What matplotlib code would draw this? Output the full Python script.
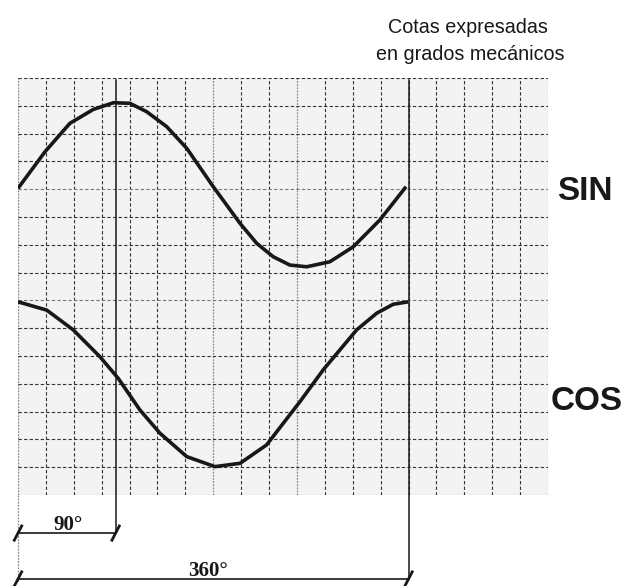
import numpy as np
import matplotlib
matplotlib.use("Agg")
import matplotlib.pyplot as plt

# curves, in grid cells (1 cell = 360/14 deg)
sin_x = [0.0, 0.97, 1.86, 2.70, 3.42, 4.01, 4.61, 5.33, 6.05, 7.00, 7.96,
         8.56, 9.15, 9.75, 10.35, 11.18, 12.02, 12.97, 13.91]
sin_y = [11.03, 12.35, 13.37, 13.87, 14.11, 14.09, 13.79, 13.25, 12.47, 11.09, 9.77,
         9.05, 8.57, 8.27, 8.21, 8.39, 8.93, 9.89, 11.09]

cos_x = [0.0, 1.03, 1.98, 2.94, 3.59, 4.37, 5.09, 6.05, 7.06, 7.96, 8.91,
         10.11, 10.94, 11.54, 12.14, 12.86, 13.45, 13.99]
cos_y = [6.95, 6.65, 5.94, 4.97, 4.20, 3.06, 2.22, 1.38, 1.02, 1.14, 1.80,
         3.36, 4.50, 5.22, 5.94, 6.54, 6.86, 6.95]

n_cols = 19
n_rows = 15
cells_per_turn = 14   # 360 deg
deg90 = cells_per_turn / 4.0

W, H = 628, 586
fig = plt.figure(figsize=(W / 100, H / 100), dpi=100)
fig.patch.set_facecolor("white")

# grid area in pixels: x 18..548, y 78..495
ax = fig.add_axes([18 / W, (H - 495) / H, 530 / W, 417 / H])
ax.set_xlim(0, n_cols)
ax.set_ylim(0, n_rows)
ax.axis("off")
ax.add_patch(plt.Rectangle((0, 0), n_cols, n_rows, facecolor="#f2f3f2",
                           edgecolor="none", zorder=0))

grey_cols = [0, 7, 10]
for k in range(n_cols + 1):
    if k in grey_cols:
        ax.plot([k, k], [0, n_rows], color="#8a8a8a", lw=0.9, ls=(0, (1.5, 1)), zorder=1)
    else:
        ax.plot([k, k], [0, n_rows], color="#333333", lw=0.8, ls=(0, (3, 2)), zorder=1)
for k in range(n_rows + 1):
    c = "#777777" if k in (11, 7) else "#333333"
    ax.plot([0, n_cols], [k, k], color=c, lw=0.8, ls=(0, (3, 2)), zorder=1)

# curves
ax.plot(sin_x, sin_y, color="#1a1717", lw=2.6, solid_joinstyle="round",
        solid_capstyle="butt", zorder=3)
ax.plot(cos_x, cos_y, color="#1a1717", lw=2.6, solid_joinstyle="round",
        solid_capstyle="butt", zorder=3)
# small break in the cos line next to the 90 deg line
ax.plot([3.63, 3.83], [4.33, 4.17], color="white", lw=1.2, zorder=4)

# dimension lines (in cell units, below the grid)
y90 = -1.37
y360 = -3.02
ax.plot([deg90, deg90], [14.93, y90], color="#1a1717", lw=1.1, zorder=5, clip_on=False)
ax.plot([cells_per_turn, cells_per_turn], [14.93, y360], color="#1a1717", lw=1.1,
        zorder=5, clip_on=False)
ax.plot([0, 0], [0, y360 - 0.1], color="#8a8a8a", lw=0.9, ls=(0, (1.5, 1)), clip_on=False)
ax.plot([0, deg90], [y90, y90], color="#1a1717", lw=1.2, clip_on=False)
ax.plot([0, cells_per_turn], [y360, y360], color="#1a1717", lw=1.2, clip_on=False)

# slash ticks
dx, dy = 0.155, 0.30
for xe, ye in [(0, y90), (deg90, y90), (0, y360), (cells_per_turn, y360)]:
    ax.plot([xe - dx, xe + dx], [ye - dy, ye + dy], color="#1a1717", lw=2.0,
            solid_capstyle="butt", clip_on=False)

serif = ["Liberation Serif", "DejaVu Serif"]
sans = ["Liberation Sans", "DejaVu Sans"]

ax.text(deg90 / 2 + 0.05, y90 + 0.12, "90°", ha="center", va="baseline",
        fontsize=15, fontweight="bold", family=serif, color="#1a1717")
ax.text(cells_per_turn / 2 - 0.2, y360 + 0.12, "360°", ha="center", va="baseline",
        fontsize=15, fontweight="bold", family=serif, color="#1a1717")

fig.text(468 / W, 1 - 33 / H, "Cotas expresadas", ha="center", va="baseline",
         fontsize=14.2, family=sans, color="#1a1717")
fig.text(470 / W, 1 - 60 / H, "en grados mecánicos", ha="center", va="baseline",
         fontsize=14.2, family=sans, color="#1a1717")

fig.text(585 / W, 1 - 200 / H, "SIN", ha="center", va="baseline",
         fontsize=24, fontweight="bold", family=sans, color="#1a1717")
fig.text(587 / W, 1 - 410 / H, "COS", ha="center", va="baseline",
         fontsize=24, fontweight="bold", family=sans, color="#1a1717")

fig.savefig("out.png", dpi=100)
